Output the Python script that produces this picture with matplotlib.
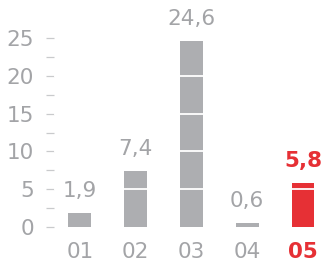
import matplotlib.pyplot as plt

categories = ["01", "02", "03", "04", "05"]
values = [1.9, 7.4, 24.6, 0.6, 5.8]
labels = ["1,9", "7,4", "24,6", "0,6", "5,8"]
yticks = [0, 5, 10, 15, 20, 25]

gray = "#adaeb1"
text_gray = "#a3a4a7"
red = "#e63035"
colors = [gray, gray, gray, gray, red]

fig = plt.figure(figsize=(3.22, 2.61), dpi=100)
ax = fig.add_axes([0.168, 0.130, 0.832, 0.724])

x = range(len(categories))
ax.bar(x, values, width=0.41, color=colors, zorder=2)

# white separators across the bars
for g in yticks[1:-1]:
    ax.axhline(g, color="white", linewidth=1.3, zorder=3)

for i, (v, lab) in enumerate(zip(values, labels)):
    c = red if i == 4 else text_gray
    ax.annotate(lab, (i, v), xytext=(0, 8.5), textcoords="offset points",
                ha="center", va="bottom", fontsize=15.5, color=c,
                fontweight="bold" if i == 4 else "normal", annotation_clip=False)

ax.set_xlim(-0.46, 4.34)
ax.set_ylim(0, 25)
ax.set_yticks(yticks)
ax.set_yticks([2.5, 7.5, 12.5, 17.5, 22.5], minor=True)
ax.tick_params(axis="y", which="both", length=5.8, width=0.9, color="#c9cacc",
               labelsize=15.5, labelcolor=text_gray, pad=8.6)
ax.set_xticks(list(x))
ax.set_xticklabels(categories)
ax.tick_params(axis="x", length=0, labelsize=15.5, labelcolor=text_gray, pad=11)
ax.get_xticklabels()[4].set_color(red)
ax.get_xticklabels()[4].set_fontweight("bold")

for s in ax.spines.values():
    s.set_visible(False)

fig.savefig("out.png", dpi=100)
